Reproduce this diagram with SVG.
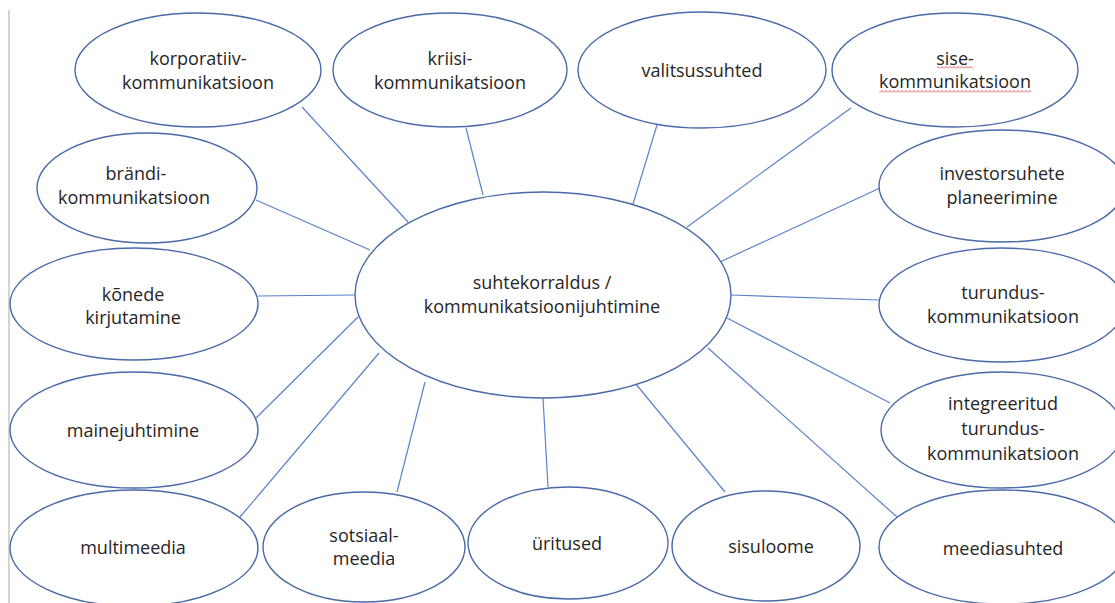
<svg xmlns="http://www.w3.org/2000/svg" width="1115" height="603" viewBox="0 0 1115 603">
<style>
.n{fill:#fff;stroke:#4a6aa8;stroke-width:1.4}
.t{font-family:"Open Sans","Liberation Sans",sans-serif;font-size:18px;fill:#262626;text-anchor:middle}
.c line{stroke:#5b82cc;stroke-width:1.2}
</style>
<defs>
<pattern id="wavy" width="4" height="3" patternUnits="userSpaceOnUse"><path d="M0,2.5 L2,0.5 L4,2.5" fill="none" stroke="#e03030" stroke-width="0.8"/></pattern>
</defs>
<rect width="1115" height="603" fill="#fff"/>
<line x1="9" y1="10" x2="9" y2="603" stroke="#d4d4d4" stroke-width="2"/>
<g id="connectors" class="c">
<line x1="302" y1="107" x2="408" y2="222"/>
<line x1="466" y1="128" x2="483" y2="195"/>
<line x1="657" y1="125" x2="633" y2="204"/>
<line x1="851" y1="108" x2="687" y2="227"/>
<line x1="256" y1="200" x2="370" y2="250"/>
<line x1="258" y1="296" x2="355" y2="295"/>
<line x1="256" y1="418" x2="358" y2="317"/>
<line x1="240" y1="517" x2="379" y2="353"/>
<line x1="397" y1="492" x2="425" y2="382"/>
<line x1="548" y1="487" x2="543" y2="398"/>
<line x1="725" y1="492" x2="635" y2="383"/>
<line x1="897" y1="517" x2="708" y2="348"/>
<line x1="880" y1="188" x2="720" y2="262"/>
<line x1="879" y1="300" x2="731" y2="295"/>
<line x1="890" y1="403" x2="727" y2="318"/>
</g>
<g id="center"><ellipse class="n" cx="543" cy="295" rx="188" ry="103"/><text class="t" x="542" y="289">suhtekorraldus /</text><text class="t" x="542" y="313">kommunikatsioonijuhtimine</text></g>
<g id="korporatiiv"><ellipse class="n" cx="198" cy="70" rx="123" ry="57"/><text class="t" x="198" y="65">korporatiiv-</text><text class="t" x="198" y="89">kommunikatsioon</text></g>
<g id="kriisi"><ellipse class="n" cx="450" cy="70" rx="117" ry="57"/><text class="t" x="450" y="65">kriisi-</text><text class="t" x="450" y="89">kommunikatsioon</text></g>
<g id="valitsus"><ellipse class="n" cx="702" cy="70" rx="124" ry="58"/><text class="t" x="702" y="77">valitsussuhted</text></g>
<g id="sise"><ellipse class="n" cx="955" cy="70" rx="123" ry="57"/><text class="t" x="955" y="65">sise-</text><text class="t" x="955" y="88">kommunikatsioon</text>
<rect x="937" y="66" width="36" height="3" fill="url(#wavy)"/><rect x="879" y="90" width="152" height="3" fill="url(#wavy)"/></g>
<g id="brandi"><ellipse class="n" cx="147" cy="188" rx="110" ry="55"/><text class="t" x="136" y="180">brändi-</text><text class="t" x="134" y="204">kommunikatsioon</text></g>
<g id="konede"><ellipse class="n" cx="134" cy="304" rx="124" ry="56"/><text class="t" x="133" y="301">kõnede</text><text class="t" x="133" y="324">kirjutamine</text></g>
<g id="maine"><ellipse class="n" cx="134" cy="430" rx="124" ry="58"/><text class="t" x="133" y="437">mainejuhtimine</text></g>
<g id="multimeedia"><ellipse class="n" cx="134" cy="548" rx="124" ry="58"/><text class="t" x="133" y="554">multimeedia</text></g>
<g id="sotsiaal"><ellipse class="n" cx="364" cy="547" rx="101" ry="55"/><text class="t" x="364" y="542">sotsiaal-</text><text class="t" x="364" y="565">meedia</text></g>
<g id="uritused"><ellipse class="n" cx="568" cy="543" rx="100" ry="56"/><text class="t" x="567" y="550">üritused</text></g>
<g id="sisuloome"><ellipse class="n" cx="766" cy="546" rx="94" ry="55"/><text class="t" x="771" y="553">sisuloome</text></g>
<g id="meediasuhted"><ellipse class="n" cx="1003" cy="547" rx="124" ry="57"/><text class="t" x="1003" y="555">meediasuhted</text></g>
<g id="investor"><ellipse class="n" cx="1002" cy="186" rx="123" ry="56"/><text class="t" x="1002" y="180">investorsuhete</text><text class="t" x="1002" y="204">planeerimine</text></g>
<g id="turundus"><ellipse class="n" cx="1002" cy="305" rx="123" ry="57"/><text class="t" x="1003" y="299">turundus-</text><text class="t" x="1003" y="323">kommunikatsioon</text></g>
<g id="integreeritud"><ellipse class="n" cx="1002" cy="430" rx="121" ry="58"/><text class="t" x="1003" y="410">integreeritud</text><text class="t" x="1003" y="435">turundus-</text><text class="t" x="1003" y="460">kommunikatsioon</text></g>
</svg>
